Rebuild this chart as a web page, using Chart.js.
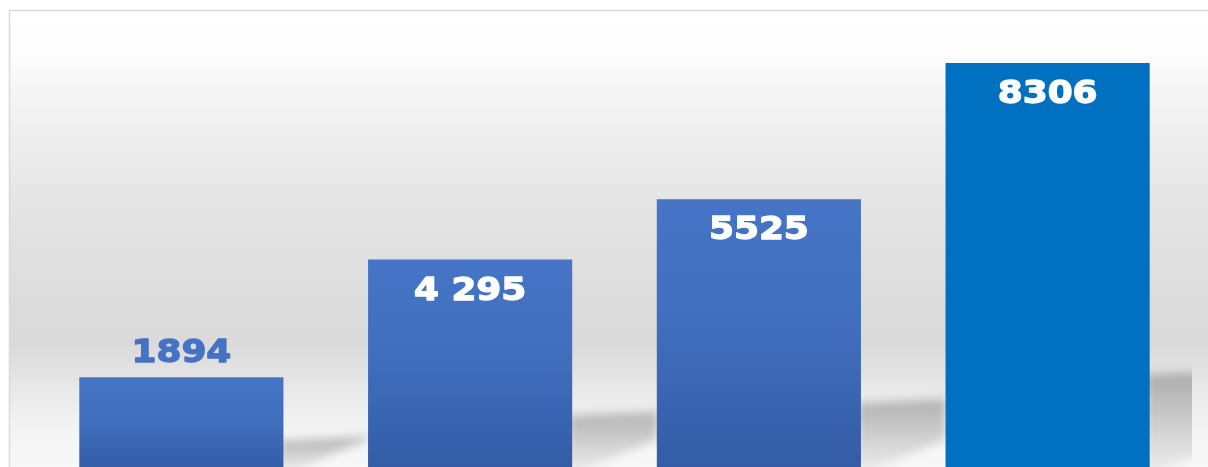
<!DOCTYPE html>
<html><head><meta charset="utf-8">
<style>html,body{margin:0;padding:0;overflow:hidden;background:#fff}canvas{display:block}</style>
<script src="https://cdn.jsdelivr.net/npm/chart.js@4/dist/chart.umd.min.js"></script>
</head><body>
<canvas id="c" width="1208" height="480"></canvas>
<script>
// ---- data ----
const categories = ['1', '2', '3', '4'];
const values = [1894, 4295, 5525, 8306];
const valueLabels = ['1894', '4 295', '5525', '8306'];
const labelInside = [false, true, true, true];
const yMin = 0;
const yMax = 9000;

// ---- styles ----
const barTopColors = ['#4674C6', '#4674C6', '#4674C6', '#0070C0'];
const barMidColors = ['#4270C0', '#4270C0', '#4270C0', '#0070C0'];
const barBottomColors = ['#335CA5', '#335CA5', '#335CA5', '#0070C0'];

const bgPlugin = {
  id: 'bg',
  beforeDraw(chart) {
    const c = chart.ctx, W = chart.width, H = chart.height;
    c.save();
    c.fillStyle = '#ffffff';
    c.fillRect(0, 0, W, H);
    const g = c.createLinearGradient(0, 11, 0, 470);
    g.addColorStop(0, '#ffffff');
    g.addColorStop(40 / 459, '#fdfdfd');
    g.addColorStop(89 / 459, '#f4f4f4');
    g.addColorStop(139 / 459, '#ececec');
    g.addColorStop(189 / 459, '#e5e5e5');
    g.addColorStop(289 / 459, '#dcdcdc');
    g.addColorStop(334 / 459, '#dadada');
    g.addColorStop(389 / 459, '#ececec');
    g.addColorStop(425 / 459, '#f5f5f5');
    g.addColorStop(1, '#f8f8f8');
    c.fillStyle = g;
    c.fillRect(10, 11, W - 10, H - 11);
    c.strokeStyle = '#d9d9d9';
    c.lineWidth = 1.5;
    c.beginPath();
    c.moveTo(9.5, H); c.lineTo(9.5, 10.5); c.lineTo(W, 10.5);
    c.stroke();
    c.restore();
  },
  beforeDatasetsDraw(chart) {
    const c = chart.ctx, area = chart.chartArea;
    const meta = chart.getDatasetMeta(0);
    c.save();
    c.beginPath();
    c.rect(area.left, 0, area.right - area.left, chart.height);
    c.clip();
    c.filter = 'blur(5px)';
    meta.data.forEach((bar) => {
      if (!isFinite(bar.x) || !isFinite(bar.y) || !isFinite(bar.base)) return;
      const xr = bar.x + bar.width / 2;
      const base = bar.base;
      const h = base - bar.y;
      const y0 = base - (0.21 * h + 10);
      const L = 85;
      const g = c.createLinearGradient(0, y0, 0, base);
      g.addColorStop(0, 'rgba(0,0,0,0.24)');
      g.addColorStop(0.35, 'rgba(0,0,0,0.18)');
      g.addColorStop(1, 'rgba(0,0,0,0.05)');
      c.fillStyle = g;
      c.beginPath();
      c.moveTo(xr - 4, y0);
      c.lineTo(xr + L, y0 - 4);
      c.lineTo(xr + L, base - 0.36 * L);
      c.lineTo(xr - 4, base + 5);
      c.closePath();
      c.fill();
    });
    c.restore();
  },
  afterDatasetsDraw(chart) {
    const c = chart.ctx;
    const meta = chart.getDatasetMeta(0);
    c.save();
    c.font = 'bold 32px "DejaVu Sans"';
    c.textAlign = 'center';
    c.textBaseline = 'alphabetic';
    c.lineJoin = 'round';
    meta.data.forEach((bar, i) => {
      if (!isFinite(bar.x) || !isFinite(bar.y)) return;
      const inside = labelInside[i];
      const y = inside ? bar.y + 40 : bar.y - 15;
      const col = inside ? '#ffffff' : '#4472C4';
      c.fillStyle = col;
      c.strokeStyle = col;
      c.lineWidth = 1.3;
      c.save();
      c.translate(bar.x, y);
      c.scale(1.12, 1);
      c.fillText(valueLabels[i], 0, 0);
      c.strokeText(valueLabels[i], 0, 0);
      c.restore();
    });
    c.restore();
  }
};

function barFill(ctx) {
  const i = ctx.dataIndex;
  const chart = ctx.chart;
  const ys = chart.scales && chart.scales.y;
  if (!ys || i === undefined || i === null) return '#4472C4';
  const top = ys.getPixelForValue(values[i]);
  const base = ys.getPixelForValue(0);
  if (!isFinite(top) || !isFinite(base) || top === base) return barTopColors[i];
  const g = chart.ctx.createLinearGradient(0, top, 0, base);
  g.addColorStop(0, barTopColors[i]);
  g.addColorStop(0.4, barMidColors[i]);
  g.addColorStop(1, barBottomColors[i]);
  return g;
}

new Chart(document.getElementById('c'), {
  type: 'bar',
  data: {
    labels: categories,
    datasets: [{
      data: values,
      backgroundColor: barFill,
      borderWidth: 0,
      barPercentage: 0.707,
      categoryPercentage: 1
    }]
  },
  options: {
    responsive: false,
    devicePixelRatio: 1,
    animation: false,
    layout: { padding: { left: 37, right: 16, top: 29, bottom: 10 } },
    plugins: { legend: { display: false }, tooltip: { enabled: false } },
    scales: {
      x: { display: false },
      y: { display: false, min: yMin, max: yMax }
    }
  },
  plugins: [bgPlugin]
});
</script>
</body></html>
